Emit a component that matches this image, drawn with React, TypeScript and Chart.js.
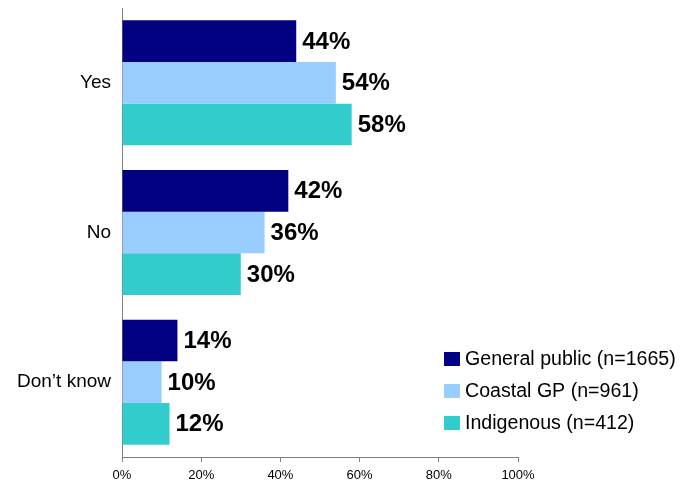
import React, { useEffect, useRef } from "react";
import { Chart, registerables } from "chart.js";

Chart.register(...registerables);

const categories = ["Yes", "No", "Don\u2019t know"];
const seriesNames = ["General public (n=1665)", "Coastal GP (n=961)", "Indigenous (n=412)"];
const generalPublic = [44, 42, 14];
const coastalGP = [54, 36, 10];
const indigenous = [58, 30, 12];
const seriesColors = ["#000080", "#99CCFF", "#33CCCC"];
const xTicks = [0, 20, 40, 60, 80, 100];

const FONT = "Liberation Sans, Arial, Helvetica, sans-serif";

const labelPlugin = {
  id: "valueLabels",
  afterDatasetsDraw(chart: any) {
    const ctx = chart.ctx;
    ctx.save();
    ctx.font = `bold 24px ${FONT}`;
    ctx.fillStyle = "#000000";
    ctx.textAlign = "left";
    ctx.textBaseline = "middle";
    chart.data.datasets.forEach((ds: any, di: number) => {
      const meta = chart.getDatasetMeta(di);
      meta.data.forEach((bar: any, i: number) => {
        ctx.fillText(ds.data[i] + "%", bar.x + 6, bar.y + 1);
      });
    });
    ctx.restore();
  },
};

const legendPlugin = {
  id: "customLegend",
  afterDraw(chart: any) {
    const ctx = chart.ctx;
    ctx.save();
    ctx.font = `19.6px ${FONT}`;
    ctx.textAlign = "left";
    ctx.textBaseline = "middle";
    const x0 = 444;
    const y0 = 359;
    chart.data.datasets.forEach((ds: any, di: number) => {
      const cy = y0 + di * 32;
      ctx.fillStyle = ds.backgroundColor;
      ctx.fillRect(x0, cy - 7, 16, 14);
      ctx.fillStyle = "#000000";
      ctx.fillText(ds.label, x0 + 21, cy + 1);
    });
    ctx.restore();
  },
};

export default function App() {
  const ref = useRef<HTMLCanvasElement | null>(null);
  useEffect(() => {
    if (!ref.current) return;
    const chart = new Chart(ref.current, {
      type: "bar",
      data: {
        labels: categories,
        datasets: [
          { label: seriesNames[0], data: generalPublic, backgroundColor: seriesColors[0] },
          { label: seriesNames[1], data: coastalGP, backgroundColor: seriesColors[1] },
          { label: seriesNames[2], data: indigenous, backgroundColor: seriesColors[2] },
        ],
      },
      options: {
        indexAxis: "y",
        animation: false,
        responsive: false,
        maintainAspectRatio: false,
        layout: { padding: { left: 0, right: 167, top: 8, bottom: 0 } },
        datasets: { bar: { categoryPercentage: 0.835, barPercentage: 1.0 } },
        plugins: { legend: { display: false }, tooltip: { enabled: false } },
        scales: {
          x: {
            min: 0,
            max: 100,
            afterBuildTicks(scale: any) {
              scale.ticks = xTicks.map((v) => ({ value: v }));
            },
            afterFit(scale: any) {
              scale.height = 24;
              scale.paddingLeft = 0;
              scale.paddingRight = 0;
            },
            ticks: {
              callback: (v: any) => v + "%",
              font: { family: FONT, size: 13 },
              color: "#000000",
              padding: 6,
              maxRotation: 0,
            },
            grid: { drawOnChartArea: false, drawTicks: true, tickLength: 5, color: "#808080" },
            border: { color: "#808080", width: 1 },
          },
          y: {
            afterFit(scale: any) {
              scale.width = 122;
              scale.paddingTop = 0;
              scale.paddingBottom = 0;
            },
            ticks: {
              font: { family: FONT, size: 19 },
              color: "#000000",
              padding: 11,
            },
            grid: { drawOnChartArea: false, drawTicks: false },
            border: { color: "#808080", width: 1 },
          },
        },
      },
      plugins: [labelPlugin, legendPlugin],
    });
    return () => chart.destroy();
  }, []);
  return (
    <div style={{ position: "fixed", left: 0, top: 0, width: 685, height: 481, background: "#fff" }}>
      <canvas ref={ref} width={685} height={481} style={{ width: 685, height: 481 }} />
    </div>
  );
}
